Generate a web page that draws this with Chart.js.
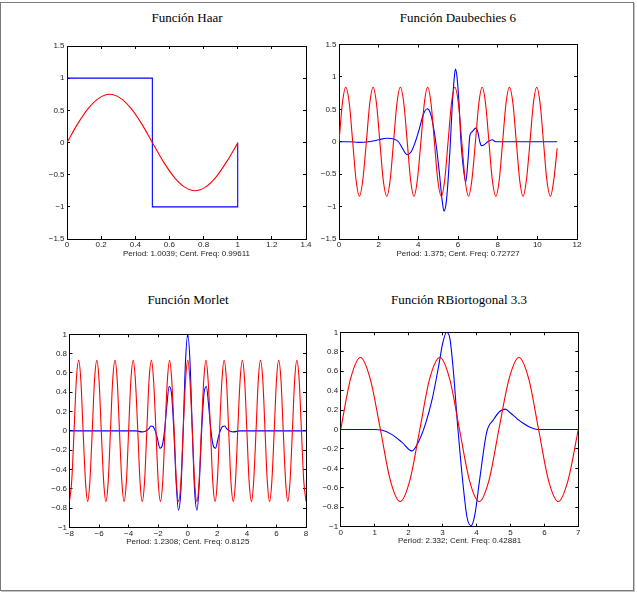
<!DOCTYPE html>
<html><head><meta charset="utf-8">
<script src="https://cdn.jsdelivr.net/npm/chart.js@4.4.0/dist/chart.umd.min.js"></script>
<style>
html,body{margin:0;padding:0;background:#fff;width:637px;height:593px;overflow:hidden;position:relative}
#frame{position:absolute;left:0;top:2px;width:632px;height:587px;border:1px solid #7a7a7a;box-shadow:1px 1px 0 #c4c4c4}
canvas{position:absolute}
.ttl{position:absolute;font-family:"Liberation Serif","Times New Roman",serif;font-size:13px;color:#000;transform:translate(-50%,-50%);white-space:nowrap}
</style></head>
<body>
<div id="frame"></div>
<div class="ttl" style="left:187px;top:17.5px">Función Haar</div>
<div class="ttl" style="left:458px;top:17.5px">Función Daubechies 6</div>
<div class="ttl" style="left:188px;top:300px">Función Morlet</div>
<div class="ttl" style="left:459px;top:300px">Función RBiortogonal 3.3</div>
<script>
// ---------- Haar ----------
const haarWaveX = [0, 0, 0.5, 0.5, 1, 1];
const haarWaveY = [0, 1, 1, -1, -1, 0];
const haarSinX = [0, 0.0625, 0.125, 0.1875, 0.25, 0.3125, 0.375, 0.4375, 0.5, 0.5625, 0.625, 0.6875, 0.75, 0.8125, 0.875, 0.9375, 1.0];
const haarSinY = [0, 0.29, 0.53, 0.69, 0.75, 0.69, 0.53, 0.29, 0, -0.29, -0.53, -0.69, -0.75, -0.69, -0.53, -0.29, -0.01];
const haarXTicks = [0, 0.2, 0.4, 0.6, 0.8, 1, 1.2, 1.4];
const haarXLabels = ['0', '0.2', '0.4', '0.6', '0.8', '1', '1.2', '1.4'];
const haarYTicks = [-1.5, -1, -0.5, 0, 0.5, 1, 1.5];
const haarYLabels = ['\u22121.5', '\u22121', '\u22120.5', '0', '0.5', '1', '1.5'];
const haarCaption = 'Period: 1.0039; Cent. Freq: 0.99611';

// ---------- Daubechies 6 ----------
const db6WaveX = [0, 0.5, 1.0, 1.5, 2.0, 2.4, 2.8, 3.0, 3.2, 3.44, 3.65, 3.85, 4.05, 4.25, 4.45, 4.6, 4.75, 4.9, 5.05, 5.2, 5.29, 5.4, 5.5, 5.6, 5.7, 5.8, 5.87, 5.95, 6.05, 6.15, 6.25, 6.39, 6.5, 6.6, 6.7, 6.9, 7.0, 7.1, 7.18, 7.3, 7.5, 7.73, 7.9, 8.1, 9, 10, 11];
const db6WaveY = [0, 0, -0.01, 0, 0.03, 0.055, 0.04, 0.0, -0.1, -0.2, -0.15, 0, 0.2, 0.42, 0.51, 0.45, 0.25, -0.05, -0.45, -0.9, -1.07, -0.95, -0.6, -0.1, 0.5, 0.95, 1.12, 1.0, 0.6, 0.0, -0.35, -0.62, -0.3, 0.1, 0.15, 0.21, 0.15, 0.0, -0.06, -0.05, 0.0, 0.03, 0.0, 0, 0, 0, 0];
const db6SinX = [0, 0.17, 0.34, 0.52, 0.69, 0.86, 1.03, 1.20, 1.38, 1.55, 1.72, 1.89, 2.06, 2.23, 2.41, 2.58, 2.75, 2.92, 3.09, 3.27, 3.44, 3.61, 3.78, 3.95, 4.13, 4.30, 4.47, 4.64, 4.81, 4.98, 5.16, 5.33, 5.50, 5.67, 5.84, 6.02, 6.19, 6.36, 6.53, 6.70, 6.88, 7.05, 7.22, 7.39, 7.56, 7.73, 7.91, 8.08, 8.25, 8.42, 8.59, 8.77, 8.94, 9.11, 9.28, 9.45, 9.63, 9.80, 9.97, 10.14, 10.31, 10.48, 10.66, 10.83, 11.0];
const db6SinY = [0, 0.59, 0.84, 0.59, 0, -0.59, -0.84, -0.59,
  0, 0.59, 0.84, 0.59, 0, -0.59, -0.84, -0.59,
  0, 0.59, 0.84, 0.59, 0, -0.59, -0.84, -0.59,
  0, 0.59, 0.84, 0.59, 0, -0.59, -0.84, -0.59,
  0, 0.59, 0.84, 0.59, 0, -0.59, -0.84, -0.59,
  0, 0.59, 0.84, 0.59, 0, -0.59, -0.84, -0.59,
  0, 0.59, 0.84, 0.59, 0, -0.59, -0.84, -0.59,
  0, 0.59, 0.84, 0.59, 0, -0.59, -0.84, -0.59,
  -0.1];
const db6XTicks = [0, 2, 4, 6, 8, 10, 12];
const db6XLabels = ['0', '2', '4', '6', '8', '10', '12'];
const db6YTicks = [-1.5, -1, -0.5, 0, 0.5, 1, 1.5];
const db6YLabels = ['\u22121.5', '\u22121', '\u22120.5', '0', '0.5', '1', '1.5'];
const db6Caption = 'Period: 1.375; Cent. Freq: 0.72727';

// ---------- Morlet ----------
const morWaveX = [-8, -4, -3.5, -3.1, -2.83, -2.65, -2.5, -2.35, -2.2, -2.05, -1.88, -1.72, -1.57, -1.42, -1.26, -1.1, -0.94, -0.78, -0.63, -0.47, -0.31, -0.16, 0, 0.16, 0.31, 0.47, 0.63, 0.78, 0.94, 1.1, 1.26, 1.42, 1.57, 1.72, 1.88, 2.05, 2.2, 2.35, 2.5, 2.65, 2.83, 3.1, 3.5, 4, 8];
const morWaveY = [0, 0, 0, -0.01, 0, 0.02, 0.05, 0.045, 0, -0.08, -0.18, -0.15, 0, 0.25, 0.46, 0.39, 0, -0.54, -0.82, -0.63, 0, 0.69, 1.0, 0.69, 0, -0.63, -0.82, -0.54, 0, 0.39, 0.46, 0.25, 0, -0.15, -0.18, -0.08, 0, 0.045, 0.05, 0.02, 0, -0.01, 0, 0, 0];
const morSinX = [-8, -7.85, -7.69, -7.54, -7.38, -7.23, -7.08, -6.92, -6.77, -6.62, -6.46, -6.31, -6.15, -6.0, -5.85, -5.69, -5.54, -5.38, -5.23, -5.08, -4.92, -4.77, -4.62, -4.46, -4.31, -4.15, -4.0, -3.85, -3.69, -3.54, -3.38, -3.23, -3.08, -2.92, -2.77, -2.62, -2.46, -2.31, -2.15, -2.0, -1.85, -1.69, -1.54, -1.38, -1.23, -1.08, -0.92, -0.77, -0.62, -0.46, -0.31, -0.15, 0,
  0.15, 0.31, 0.46, 0.62, 0.77, 0.92, 1.08, 1.23, 1.38, 1.54, 1.69, 1.85, 2.0, 2.15, 2.31, 2.46, 2.62, 2.77, 2.92, 3.08, 3.23, 3.38, 3.54, 3.69, 3.85, 4.0, 4.15, 4.31, 4.46, 4.62, 4.77, 4.92, 5.08, 5.23, 5.38, 5.54, 5.69, 5.85, 6.0, 6.15, 6.31, 6.46, 6.62, 6.77, 6.92, 7.08, 7.23, 7.38, 7.54, 7.69, 7.85, 8.0];
const morSinY = [-0.73, -0.52, 0, 0.52, 0.73, 0.52, 0, -0.52,
  -0.73, -0.52, 0, 0.52, 0.73, 0.52, 0, -0.52,
  -0.73, -0.52, 0, 0.52, 0.73, 0.52, 0, -0.52,
  -0.73, -0.52, 0, 0.52, 0.73, 0.52, 0, -0.52,
  -0.73, -0.52, 0, 0.52, 0.73, 0.52, 0, -0.52,
  -0.73, -0.52, 0, 0.52, 0.73, 0.52, 0, -0.52,
  -0.73, -0.52, 0, 0.52, 0.73, 0.52, 0, -0.52,
  -0.73, -0.52, 0, 0.52, 0.73, 0.52, 0, -0.52,
  -0.73, -0.52, 0, 0.52, 0.73, 0.52, 0, -0.52,
  -0.73, -0.52, 0, 0.52, 0.73, 0.52, 0, -0.52,
  -0.73, -0.52, 0, 0.52, 0.73, 0.52, 0, -0.52,
  -0.73, -0.52, 0, 0.52, 0.73, 0.52, 0, -0.52,
  -0.73, -0.52, 0, 0.52, 0.73, 0.52, 0, -0.52,
  -0.73];
const morXTicks = [-8, -6, -4, -2, 0, 2, 4, 6, 8];
const morXLabels = ['\u22128', '\u22126', '\u22124', '\u22122', '0', '2', '4', '6', '8'];
const morYTicks = [-1, -0.8, -0.6, -0.4, -0.2, 0, 0.2, 0.4, 0.6, 0.8, 1];
const morYLabels = ['\u22121', '\u22120.8', '\u22120.6', '\u22120.4', '\u22120.2', '0', '0.2', '0.4', '0.6', '0.8', '1'];
const morCaption = 'Period: 1.2308; Cent. Freq: 0.8125';

// ---------- RBiortogonal 3.3 ----------
const rbWaveX = [0, 0.5, 1.0, 1.2, 1.5, 1.8, 2.1, 2.3, 2.5, 2.7, 2.9, 3.0, 3.12, 3.22, 3.32, 3.45, 3.6, 3.72, 3.84, 3.95, 4.1, 4.3, 4.5, 4.7, 4.85, 5.0, 5.2, 5.4, 5.6, 5.8, 6.0, 7.0];
const rbWaveY = [0, 0, 0, -0.005, -0.05, -0.13, -0.22, -0.12, 0.06, 0.32, 0.68, 0.88, 1.0, 0.93, 0.6, 0.02, -0.55, -0.9, -0.99, -0.88, -0.5, -0.03, 0.1, 0.19, 0.21, 0.17, 0.11, 0.06, 0.02, 0, 0, 0];
const rbSinX = [0, 0.29, 0.58, 0.87, 1.17, 1.46, 1.75, 2.04, 2.33, 2.62, 2.92, 3.21, 3.50, 3.79, 4.08, 4.37, 4.66, 4.96, 5.25, 5.54, 5.83, 6.12, 6.41, 6.70, 7.0];
const rbSinY = [0, 0.52, 0.74, 0.52, 0, -0.52, -0.74, -0.52,
  0, 0.52, 0.74, 0.52, 0, -0.52, -0.74, -0.52,
  0, 0.52, 0.74, 0.52, 0, -0.52, -0.74, -0.52,
  0];
const rbXTicks = [0, 1, 2, 3, 4, 5, 6, 7];
const rbXLabels = ['0', '1', '2', '3', '4', '5', '6', '7'];
const rbYTicks = [-1, -0.8, -0.6, -0.4, -0.2, 0, 0.2, 0.4, 0.6, 0.8, 1];
const rbYLabels = ['\u22121', '\u22120.8', '\u22120.6', '\u22120.4', '\u22120.2', '0', '0.2', '0.4', '0.6', '0.8', '1'];
const rbCaption = 'Period: 2.332; Cent. Freq: 0.42881';

const RED = '#ff0000', BLUE = '#0000ff';
const tickFont = {family: '"Liberation Sans", Arial, Helvetica, sans-serif', size: 8};

function makeChart(o) {
  const c = document.createElement('canvas');
  c.width = o.cw; c.height = o.ch;
  c.style.left = o.cx + 'px'; c.style.top = o.cy + 'px';
  document.body.appendChild(c);
  const yW = o.pl - o.cx, padTop = o.pt - o.cy, padRight = o.cx + o.cw - o.pr, xH = o.cy + o.ch - o.pb;
  const setTicks = vals => s => { s.ticks = vals.map(v => ({value: v})); };
  const grid = {display: true, drawOnChartArea: false, drawTicks: true, tickLength: -3, color: '#000', lineWidth: 1};
  const border = {display: true, color: '#000', width: 1};
  const ds = o.series.map(d => ({
    data: d.x.map((x, i) => ({x: x, y: d.y[i]})),
    borderColor: d.color, borderWidth: 1.1, pointRadius: 0, fill: false,
    tension: 0, cubicInterpolationMode: d.sharp ? 'default' : 'monotone'
  }));
  new Chart(c, {
    type: 'line',
    data: {datasets: ds},
    options: {
      responsive: false, animation: false, devicePixelRatio: 1,
      layout: {padding: {left: 0, top: padTop, right: padRight, bottom: 0}},
      plugins: {legend: {display: false}, tooltip: {enabled: false}, title: {display: false}},
      scales: {
        x: {type: 'linear', position: 'bottom', min: o.xMin, max: o.xMax,
          afterBuildTicks: setTicks(o.xTicks), afterFit: s => { s.height = xH; },
          ticks: {callback: (v, i) => o.xLabels[i], font: tickFont, color: '#222', padding: 4, maxRotation: 0, autoSkip: false},
          grid: grid, border: border,
          title: {display: true, text: o.caption, font: tickFont, color: '#222', padding: {top: 0, bottom: xH - 19.3}}},
        y: {type: 'linear', position: 'left', min: o.yMin, max: o.yMax,
          afterBuildTicks: setTicks(o.yTicks), afterFit: s => { s.width = yW; },
          ticks: {callback: (v, i) => o.yLabels[i], font: tickFont, color: '#222', padding: 5.5, autoSkip: false},
          grid: grid, border: border},
        x2: {type: 'linear', position: 'top', min: o.xMin, max: o.xMax,
          afterBuildTicks: setTicks(o.xTicks), afterFit: s => { s.height = 0; },
          ticks: {display: false}, grid: grid, border: border},
        y2: {type: 'linear', position: 'right', min: o.yMin, max: o.yMax,
          afterBuildTicks: setTicks(o.yTicks), afterFit: s => { s.width = 0; },
          ticks: {display: false}, grid: grid, border: border}
      }
    }
  });
}

makeChart({cx: 20, cy: 30, cw: 300, ch: 240, pl: 67, pt: 46, pr: 306, pb: 239,
  xMin: 0, xMax: 1.4, yMin: -1.5, yMax: 1.5, xTicks: haarXTicks, xLabels: haarXLabels, yTicks: haarYTicks, yLabels: haarYLabels, caption: haarCaption,
  series: [{x: haarSinX, y: haarSinY, color: RED}, {x: haarWaveX, y: haarWaveY, color: BLUE, sharp: true}]});

makeChart({cx: 305, cy: 30, cw: 300, ch: 240, pl: 339, pt: 44.5, pr: 577, pb: 239,
  xMin: 0, xMax: 12, yMin: -1.5, yMax: 1.5, xTicks: db6XTicks, xLabels: db6XLabels, yTicks: db6YTicks, yLabels: db6YLabels, caption: db6Caption,
  series: [{x: db6SinX, y: db6SinY, color: RED}, {x: db6WaveX, y: db6WaveY, color: BLUE}]});

makeChart({cx: 20, cy: 320, cw: 300, ch: 240, pl: 69.5, pt: 334.3, pr: 306, pb: 527.5,
  xMin: -8, xMax: 8, yMin: -1, yMax: 1, xTicks: morXTicks, xLabels: morXLabels, yTicks: morYTicks, yLabels: morYLabels, caption: morCaption,
  series: [{x: morSinX, y: morSinY, color: RED}, {x: morWaveX, y: morWaveY, color: BLUE}]});

makeChart({cx: 305, cy: 320, cw: 300, ch: 240, pl: 340.7, pt: 332.3, pr: 578.3, pb: 526.7,
  xMin: 0, xMax: 7, yMin: -1, yMax: 1, xTicks: rbXTicks, xLabels: rbXLabels, yTicks: rbYTicks, yLabels: rbYLabels, caption: rbCaption,
  series: [{x: rbSinX, y: rbSinY, color: RED}, {x: rbWaveX, y: rbWaveY, color: BLUE}]});
</script>
</body></html>
